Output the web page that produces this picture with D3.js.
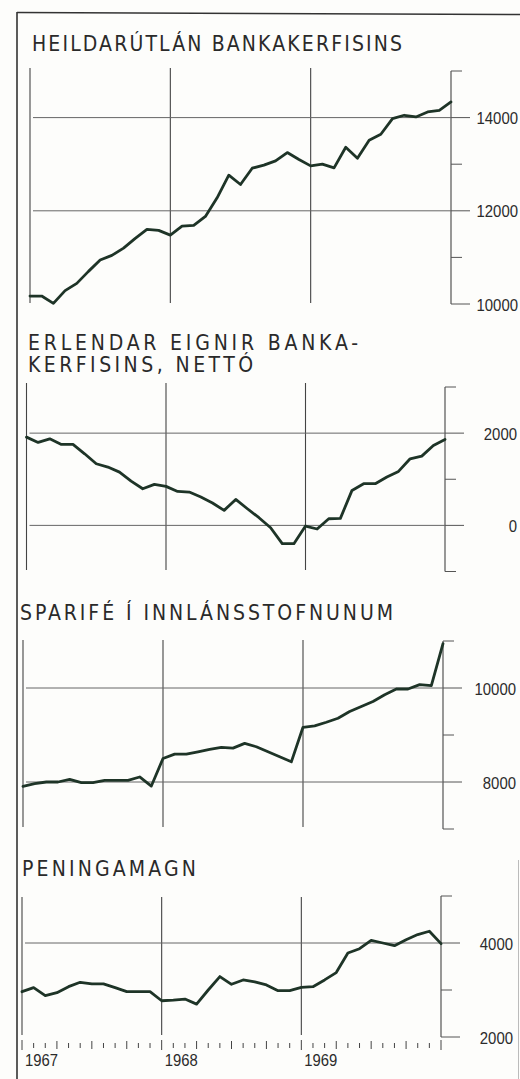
<!DOCTYPE html>
<html><head><meta charset="utf-8">
<script src="https://cdn.jsdelivr.net/npm/d3@7/dist/d3.min.js"></script>
<style>
html,body{margin:0;padding:0;background:#fdfdfb;}
svg{display:block;}
</style></head>
<body>
<script>
// Monthly values, end of Dec 1966 (index 0) to end of Dec 1969 (index 36), million kr.
const years = ["1967", "1968", "1969"];
const heildarutlan = [10171,10171,10014,10286,10443,10700,10943,11043,11200,11407,11600,11579,11479,
  11671,11686,11879,12279,12764,12564,12914,12979,13071,13250,13100,12964,
  13000,12921,13364,13129,13514,13643,13979,14050,14014,14121,14157,14336];
const erlendarEignir = [1913,1798,1877,1755,1755,1552,1336,1264,1155,960,794,888,845,
  736,722,614,484,325,563,361,166,-51,-397,-397,-14,
  -79,144,152,758,903,903,1047,1170,1444,1502,1733,1863];
const sparife = [7907,7964,8000,8000,8057,7986,7986,8036,8036,8036,8107,7914,8500,
  8593,8593,8643,8693,8736,8721,8821,8750,8643,8536,8429,9164,
  9193,9271,9357,9500,9607,9714,9857,9979,9979,10071,10050,10943];
const peningamagn = [2964,3050,2879,2943,3071,3164,3129,3129,3050,2964,2964,2964,2771,
  2786,2807,2700,3000,3286,3121,3214,3171,3107,2986,2986,3057,
  3071,3214,3371,3786,3879,4057,4000,3943,4071,4179,4250,3986];

const titles1 = ["HEILDARÚTLÁN BANKAKERFISINS"];
const titles2 = ["ERLENDAR EIGNIR BANKA-", "KERFISINS, NETTÓ"];
const titles3 = ["SPARIFÉ Í INNLÁNSSTOFNUNUM"];
const titles4 = ["PENINGAMAGN"];

const labels1 = [10000, 12000, 14000];
const labels2 = [0, 2000];
const labels3 = [8000, 10000];
const labels4 = [2000, 4000];
const grid1 = [12000, 14000];
const grid2 = [0, 2000];
const grid3 = [8000, 10000];
const grid4 = [4000];
const domain1 = [10000, 15000];
const domain2 = [-1000, 3000];
const domain3 = [7000, 11000];
const domain4 = [2000, 5000];

const W = 520, H = 1079;
const svg = d3.select("body").append("svg").attr("width", W).attr("height", H);
svg.append("rect").attr("width", W).attr("height", H).attr("fill", "#fdfdfb");

// outer frame
svg.append("line").attr("x1", 17).attr("y1", 12).attr("x2", 17).attr("y2", H).attr("stroke", "#333").attr("stroke-width", 1.6);
svg.append("line").attr("x1", 17).attr("y1", 12.5).attr("x2", W).attr("y2", 14.5).attr("stroke", "#333").attr("stroke-width", 1.4);
svg.append("line").attr("x1", 518.5).attr("y1", 860).attr("x2", 518.5).attr("y2", H).attr("stroke", "#bbb").attr("stroke-width", 1);

const panels = [
  {titles: titles1, tx: 32, tBase: [51], tLen: [370], data: heildarutlan, domain: domain1, labels: labels1, grid: grid1,
   left: 30, right: 451, yTop: 71, yBot: 304, vTop: 68, vBot: 303, labelRight: 518},
  {titles: titles2, tx: 28, tBase: [350, 372], tLen: [330, 225], data: erlendarEignir, domain: domain2, labels: labels2, grid: grid2,
   left: 26.5, right: 445, yTop: 387, yBot: 571.5, vTop: 383, vBot: 570, labelRight: 517},
  {titles: titles3, tx: 20, tBase: [620], tLen: [373], data: sparife, domain: domain3, labels: labels3, grid: grid3,
   left: 23, right: 443, yTop: 641, yBot: 829, vTop: 640, vBot: 827, labelRight: 516},
  {titles: titles4, tx: 22, tBase: [876], tLen: [174], data: peningamagn, domain: domain4, labels: labels4, grid: grid4,
   left: 22, right: 441, yTop: 896, yBot: 1037, vTop: 897, vBot: 1035, labelRight: 513}
];

panels.forEach(p => {
  const g = svg.append("g");
  p.titles.forEach((t, i) => {
    g.append("text").attr("x", p.tx).attr("y", p.tBase[i])
      .attr("font-family", "'DejaVu Sans Condensed','DejaVu Sans',sans-serif")
      .attr("font-size", 21).attr("fill", "#2a2a2a")
      .attr("textLength", p.tLen[i]).attr("lengthAdjust", "spacing")
      .text(t);
  });
  const x = d3.scaleLinear().domain([0, 36]).range([p.left, p.right]);
  const y = d3.scaleLinear().domain(p.domain).range([p.yBot, p.yTop]);
  // vertical year lines
  [0, 12, 24].forEach(m => {
    g.append("line").attr("x1", x(m)).attr("x2", x(m)).attr("y1", p.vTop).attr("y2", p.vBot)
      .attr("stroke", "#444").attr("stroke-width", 1.1);
  });
  // right axis
  g.append("line").attr("x1", p.right).attr("x2", p.right).attr("y1", y(p.domain[1])).attr("y2", y(p.domain[0]))
    .attr("stroke", "#444").attr("stroke-width", 1.1);
  const ticks = d3.range(p.domain[0], p.domain[1] + 1, 1000);
  ticks.forEach(v => {
    const major = p.labels.includes(v);
    g.append("line").attr("x1", p.right).attr("x2", p.right + (major ? 19 : 11))
      .attr("y1", y(v)).attr("y2", y(v)).attr("stroke", "#555").attr("stroke-width", 1);
  });
  // horizontal grid
  p.grid.forEach(v => {
    g.append("line").attr("x1", p.left + 3).attr("x2", p.right).attr("y1", y(v)).attr("y2", y(v))
      .attr("stroke", "#666").attr("stroke-width", 1);
  });
  // labels
  p.labels.forEach(v => {
    const s = String(v);
    g.append("text").attr("x", p.labelRight).attr("y", y(v) + 6.5)
      .attr("text-anchor", "end")
      .attr("font-family", "'Liberation Sans',Arial,sans-serif").attr("font-size", 16)
      .attr("fill", "#2b2b2b")
      .attr("textLength", s.length * 8.3).attr("lengthAdjust", "spacingAndGlyphs")
      .text(s);
  });
  // data line
  const line = d3.line().x((d, i) => x(i)).y(d => y(d));
  g.append("path").datum(p.data).attr("d", line).attr("fill", "none")
    .attr("stroke", "#1e3427").attr("stroke-width", 2.8).attr("stroke-linejoin", "round").attr("stroke-linecap", "round");
});

// bottom month axis
const last = panels[3];
const xb = d3.scaleLinear().domain([0, 36]).range([last.left, last.right]);
d3.range(0, 37).forEach(m => {
  const big = m % 12 === 0, q = m % 3 === 0;
  svg.append("line").attr("x1", xb(m)).attr("x2", xb(m))
    .attr("y1", big ? 1040 : (q ? 1041 : 1043)).attr("y2", big ? 1050 : (q ? 1049 : 1048))
    .attr("stroke", "#444").attr("stroke-width", 1);
});
years.forEach((yr, i) => {
  svg.append("text").attr("x", xb(i * 12) + 3).attr("y", 1066)
    .attr("font-family", "'Liberation Sans',Arial,sans-serif").attr("font-size", 16)
    .attr("fill", "#2b2b2b").attr("textLength", 33).attr("lengthAdjust", "spacingAndGlyphs")
    .text(yr);
});
</script>
</body></html>
